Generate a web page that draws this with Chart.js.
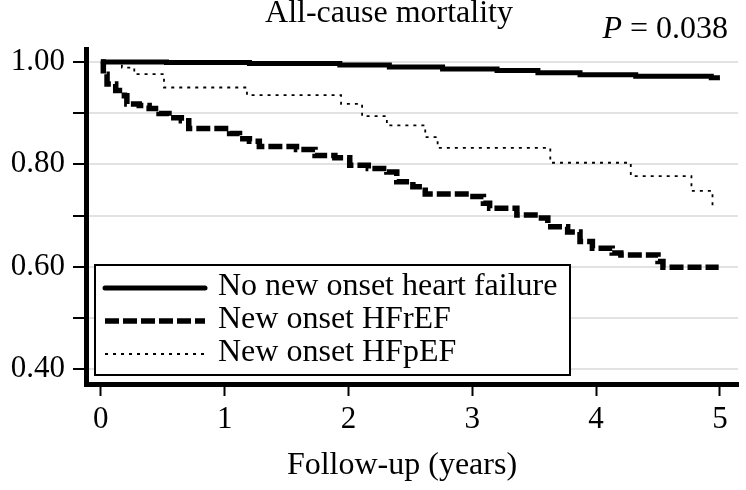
<!DOCTYPE html>
<html>
<head>
<meta charset="utf-8">
<script src="https://cdn.jsdelivr.net/npm/chart.js@4.4.1/dist/chart.umd.min.js"></script>
<style>
  html, body { margin: 0; padding: 0; background: #fff; }
  #wrap { width: 746px; height: 490px; }
</style>
</head>
<body>
<div id="wrap"><canvas id="c" width="746" height="490"></canvas></div>
<script>
// ---------- data ----------
const chartTitle = 'All-cause mortality';
const pValueLabel = 'P';
const pValueText = ' = 0.038';
const xAxisTitle = 'Follow-up (years)';

const seriesLabels = ['No new onset heart failure', 'New onset HFrEF', 'New onset HFpEF'];

const noHfTime = [0, 0.53, 1.20, 1.93, 2.33, 2.76, 3.20, 3.53, 3.87, 4.32, 4.93, 5.00];
const noHfSurv = [1.000, 0.999, 0.997, 0.994, 0.990, 0.986, 0.983, 0.979, 0.975, 0.972, 0.969, 0.969];

const hfrefTime = [0, 0.02, 0.05, 0.12, 0.19, 0.21, 0.31, 0.39, 0.47, 0.55, 0.65, 0.71, 1.04, 1.12, 1.20, 1.28, 1.58, 1.73, 1.89, 2.01, 2.16, 2.31, 2.39, 2.52, 2.62, 2.98, 3.09, 3.14, 3.36, 3.53, 3.61, 3.77, 3.87, 3.97, 4.13, 4.20, 4.50, 4.54, 4.99];
const hfrefSurv = [1.000, 0.976, 0.957, 0.944, 0.934, 0.918, 0.915, 0.909, 0.899, 0.891, 0.885, 0.870, 0.860, 0.850, 0.845, 0.835, 0.829, 0.817, 0.813, 0.798, 0.792, 0.785, 0.766, 0.756, 0.742, 0.737, 0.724, 0.714, 0.701, 0.695, 0.678, 0.668, 0.649, 0.636, 0.627, 0.623, 0.610, 0.599, 0.599];

const hfpefTime = [0, 0.17, 0.27, 0.51, 1.18, 1.94, 2.11, 2.31, 2.62, 2.72, 3.63, 4.28, 4.77, 4.94];
const hfpefSurv = [1.000, 0.989, 0.976, 0.950, 0.935, 0.918, 0.894, 0.876, 0.853, 0.832, 0.803, 0.777, 0.748, 0.717];

const xTickValues = [0, 1, 2, 3, 4, 5];
const yTickValues = [0.4, 0.5, 0.6, 0.7, 0.8, 0.9, 1.0];
const yTickLabels = ['0.40', '', '0.60', '', '0.80', '', '1.00'];

// ---------- chart ----------
const FONT = '"Liberation Serif", "Times New Roman", Times, serif';
const TXT = 32;
const toPoints = (t, s) => t.map((v, i) => ({ x: v, y: s[i] }));

const annotate = {
  id: 'annotate',
  afterDraw(chart) {
    const ctx = chart.ctx;
    ctx.save();
    ctx.fillStyle = '#000';
    ctx.textBaseline = 'alphabetic';
    // title
    ctx.font = TXT + 'px ' + FONT;
    ctx.textAlign = 'center';
    ctx.fillText(chartTitle, 389, 22);
    // P value (italic P)
    ctx.textAlign = 'left';
    ctx.font = 'italic ' + TXT + 'px ' + FONT;
    const wP = ctx.measureText(pValueLabel).width;
    ctx.font = TXT + 'px ' + FONT;
    const wR = ctx.measureText(pValueText).width;
    const x0 = 728 - wP - wR;
    ctx.font = 'italic ' + TXT + 'px ' + FONT;
    ctx.fillText(pValueLabel, x0, 38);
    ctx.font = TXT + 'px ' + FONT;
    ctx.fillText(pValueText, x0 + wP, 38);
    // x axis title
    ctx.textAlign = 'center';
    ctx.fillText(xAxisTitle, 402, 474);
    // legend box
    const bx = 95, by = 265, bw = 475, bh = 110;
    ctx.fillStyle = '#fff';
    ctx.fillRect(bx, by, bw, bh);
    ctx.strokeStyle = '#000';
    ctx.lineWidth = 2;
    ctx.setLineDash([]);
    ctx.strokeRect(bx, by, bw, bh);
    chart.data.datasets.forEach((ds, i) => {
      const ly = 288 + 33 * i;
      ctx.beginPath();
      ctx.lineWidth = ds.borderWidth;
      ctx.setLineDash(ds.borderDash || []);
      ctx.lineCap = ds.legendCap || 'butt';
      ctx.strokeStyle = ds.borderColor;
      ctx.moveTo(105, ly);
      ctx.lineTo(205, ly);
      ctx.stroke();
      ctx.setLineDash([]);
      ctx.fillStyle = '#000';
      ctx.textAlign = 'left';
      ctx.font = TXT + 'px ' + FONT;
      ctx.fillText(ds.label, 218, ly + 7);
    });
    ctx.restore();
  }
};

new Chart(document.getElementById('c'), {
  type: 'line',
  data: {
    datasets: [
      { label: seriesLabels[0], data: toPoints(noHfTime, noHfSurv), borderColor: '#000', borderWidth: 5, stepped: 'before', pointRadius: 0, fill: false, borderCapStyle: 'butt', legendCap: 'round' },
      { label: seriesLabels[1], data: toPoints(hfrefTime, hfrefSurv), borderColor: '#000', borderWidth: 5.5, borderDash: [14, 4], stepped: 'before', pointRadius: 0, fill: false, borderCapStyle: 'butt' },
      { label: seriesLabels[2], data: toPoints(hfpefTime, hfpefSurv), borderColor: '#000', borderWidth: 1.8, borderDash: [3, 5], stepped: 'before', pointRadius: 0, fill: false, borderCapStyle: 'butt' }
    ]
  },
  options: {
    responsive: false,
    animation: false,
    layout: { padding: { left: 0, right: 8, top: 49, bottom: 0 } },
    plugins: { legend: { display: false }, tooltip: { enabled: false }, title: { display: false } },
    scales: {
      x: {
        type: 'linear',
        min: -0.12,
        max: 5.146,
        afterBuildTicks: s => { s.ticks = xTickValues.map(v => ({ value: v })); },
        afterFit: s => { s.height = 106; },
        grid: { drawOnChartArea: false, tickLength: 12, tickColor: '#000', tickWidth: 2 },
        border: { display: true, color: '#000', width: 5 },
        ticks: { autoSkip: false, maxRotation: 0, padding: 5, color: '#000', font: { family: FONT, size: 31 }, callback: v => String(v) }
      },
      y: {
        type: 'linear',
        min: 0.3709,
        max: 1.0252,
        afterBuildTicks: s => { s.ticks = yTickValues.map(v => ({ value: v })); },
        afterFit: s => { s.width = 86; },
        grid: { color: '#e2e2e2', lineWidth: 2, tickLength: 13, tickColor: '#000', tickWidth: 2 },
        border: { display: true, color: '#000', width: 5 },
        ticks: {
          padding: 8, color: '#000', font: { family: FONT, size: 31 },
          callback: (v) => { const i = yTickValues.findIndex(t => Math.abs(t - v) < 1e-6); return i >= 0 ? yTickLabels[i] : ''; }
        }
      }
    }
  },
  plugins: [annotate]
});
</script>
</body>
</html>
